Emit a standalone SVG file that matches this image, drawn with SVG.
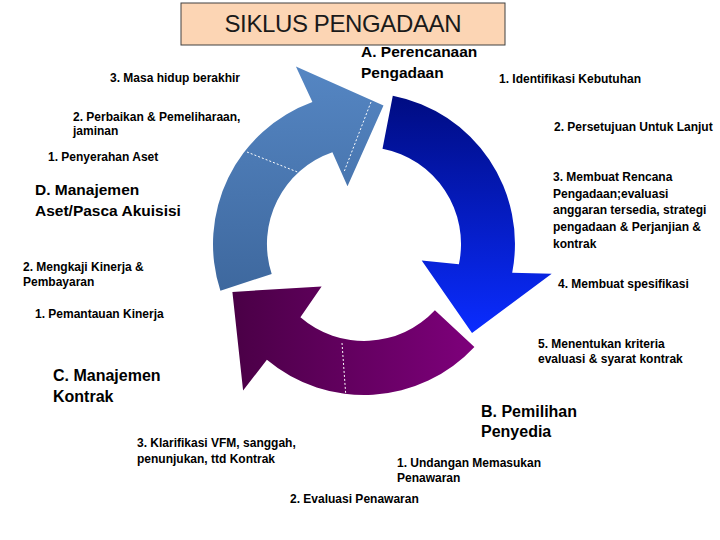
<svg xmlns="http://www.w3.org/2000/svg" width="720" height="540" viewBox="0 0 720 540">
<style>
.s{font-family:"Liberation Sans",Arial,sans-serif;font-size:12px;font-weight:bold;fill:#000}
.h{font-family:"Liberation Sans",Arial,sans-serif;font-size:15.5px;font-weight:bold;fill:#000}
.h2{font-family:"Liberation Sans",Arial,sans-serif;font-size:16px;font-weight:bold;fill:#000}
.div{stroke:#fff;stroke-width:1;stroke-dasharray:2 2;fill:none}
</style>
<defs>
<linearGradient id="gLb" gradientUnits="userSpaceOnUse" x1="0" y1="66" x2="0" y2="291">
<stop offset="0" stop-color="#5586c3"/><stop offset="1" stop-color="#3e689e"/>
</linearGradient>
<linearGradient id="gDb" gradientUnits="userSpaceOnUse" x1="0" y1="96" x2="0" y2="333">
<stop offset="0" stop-color="#000c82"/><stop offset="1" stop-color="#0a2cff"/>
</linearGradient>
<linearGradient id="gPu" gradientUnits="userSpaceOnUse" x1="232" y1="0" x2="475" y2="0">
<stop offset="0" stop-color="#4a0046"/><stop offset="1" stop-color="#7e007b"/>
</linearGradient>
</defs>
<rect width="720" height="540" fill="#fff"/>

<g id="title">
<rect x="181" y="3" width="324" height="42" fill="#fcd5b4" stroke="#404040" stroke-width="1"/>
<text x="343" y="32" text-anchor="middle" font-family="'Liberation Sans',Arial,sans-serif" font-size="24" fill="#1a1a1a" textLength="237">SIKLUS PENGADAAN</text>
</g>

<g id="connectors">
<g id="arrow-d">
<path d="M 220.4 290.7 A 151 151 0 0 1 312.4 102.1 L 295.9 66.6 L 383.5 105.4 L 347.5 186.3 L 332.4 152.3 A 97 97 0 0 0 271.7 274.0 Z" fill="url(#gLb)"/>
<line class="div" x1="247" y1="152" x2="300" y2="173"/>
<line class="div" x1="371" y1="102" x2="344" y2="172"/>
</g>
<g id="arrow-a">
<path d="M 392.8 95.8 A 151 151 0 0 1 512.2 272.8 L 551.7 273.7 L 472.0 333.1 L 421.7 260.5 L 458.9 264.2 A 97 97 0 0 0 382.5 148.8 Z" fill="url(#gDb)"/>
</g>
<g id="arrow-bc">
<path d="M 474.4 347.0 A 151 151 0 0 1 266.9 359.7 L 243.1 390.6 L 232.4 291.9 L 321.6 286.4 L 300.4 317.2 A 97 97 0 0 0 434.9 310.2 Z" fill="url(#gPu)"/>
<line class="div" x1="342" y1="343" x2="346" y2="398"/>
</g>
</g>

<g id="node-a">
<text class="h" x="361" y="57">A. Perencanaan</text>
<text class="h" x="361" y="78">Pengadaan</text>
<text class="s" x="499" y="83">1. Identifikasi Kebutuhan</text>
<text class="s" x="554" y="131">2. Persetujuan Untuk Lanjut</text>
<text class="s" x="553" y="181">3. Membuat Rencana</text>
<text class="s" x="553" y="198">Pengadaan;evaluasi</text>
<text class="s" x="553" y="214">anggaran tersedia, strategi</text>
<text class="s" x="553" y="231">pengadaan &amp; Perjanjian &amp;</text>
<text class="s" x="553" y="248">kontrak</text>
<text class="s" x="558" y="288">4. Membuat spesifikasi</text>
<text class="s" x="538" y="348">5. Menentukan kriteria</text>
<text class="s" x="538" y="363">evaluasi &amp; syarat kontrak</text>
</g>

<g id="node-b">
<text class="h2" x="481" y="417">B. Pemilihan</text>
<text class="h2" x="481" y="437">Penyedia</text>
<text class="s" x="397" y="467">1. Undangan Memasukan</text>
<text class="s" x="397" y="482">Penawaran</text>
<text class="s" x="290" y="503">2. Evaluasi Penawaran</text>
<text class="s" x="137" y="447">3. Klarifikasi VFM, sanggah,</text>
<text class="s" x="137" y="463">penunjukan, ttd Kontrak</text>
</g>

<g id="node-c">
<text class="h2" x="53" y="381">C. Manajemen</text>
<text class="h2" x="53" y="402">Kontrak</text>
<text class="s" x="35" y="318">1. Pemantauan Kinerja</text>
<text class="s" x="23" y="271">2. Mengkaji Kinerja &amp;</text>
<text class="s" x="23" y="286">Pembayaran</text>
</g>

<g id="node-d">
<text class="h" x="35" y="195">D. Manajemen</text>
<text class="h" x="35" y="216">Aset/Pasca Akuisisi</text>
<text class="s" x="48" y="161">1. Penyerahan Aset</text>
<text class="s" x="73" y="121">2. Perbaikan &amp; Pemeliharaan,</text>
<text class="s" x="73" y="135">jaminan</text>
<text class="s" x="110" y="82">3. Masa hidup berakhir</text>
</g>
</svg>
